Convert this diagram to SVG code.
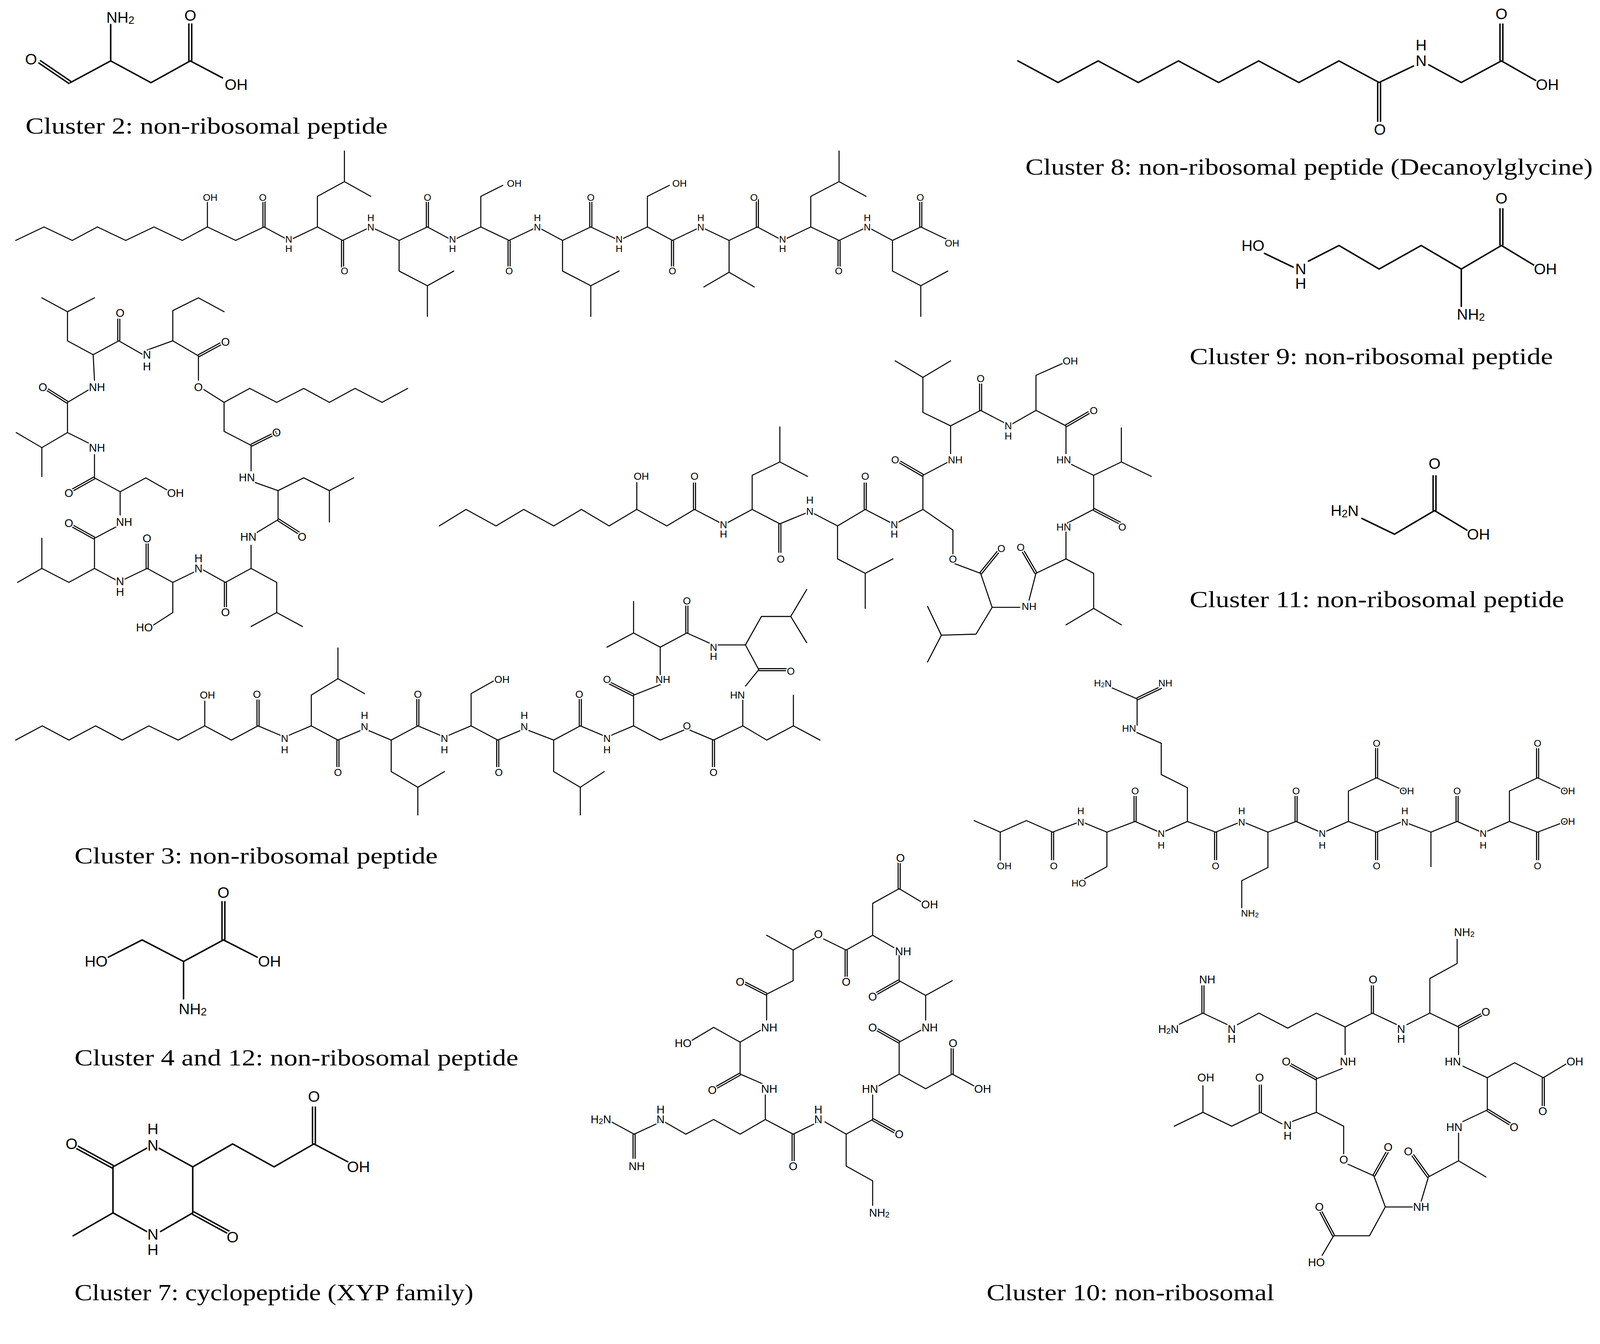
<svg xmlns="http://www.w3.org/2000/svg" width="4157" height="3440" viewBox="0 0 4157 3440">
<style>
.s{fill:none;stroke:#000;stroke-width:2.6;stroke-linejoin:round;stroke-linecap:round;vector-effect:non-scaling-stroke}
.db{fill:none;stroke:#000;stroke-width:8;vector-effect:non-scaling-stroke}
.dbw{fill:none;stroke:#fff;stroke-width:2.6;vector-effect:non-scaling-stroke}
.S{fill:none;stroke:#000;stroke-width:3.8;stroke-linejoin:round;stroke-linecap:round;vector-effect:non-scaling-stroke}
.DB{fill:none;stroke:#000;stroke-width:11;vector-effect:non-scaling-stroke}
.DBW{fill:none;stroke:#fff;stroke-width:3.6;vector-effect:non-scaling-stroke}
.a text{font-family:"Liberation Sans",Arial,sans-serif;text-anchor:middle;dominant-baseline:central;fill:#000;stroke:#fff;stroke-width:2.5;paint-order:stroke;stroke-linejoin:round}
.cap{font-family:"Liberation Serif","Times New Roman",serif;font-size:23px;fill:#000}
</style>
<rect width="4157" height="3440" fill="#fff"/>
<g transform="scale(2.612)">

<g id="cluster2">
<path class="DB" d="M38.4,60.3 L68.8,81 M186.5,59.7 L186.5,23"/>
<path class="DBW" d="M38.4,60.3 L68.8,81 M186.5,59.7 L186.5,23"/>
<path class="S" d="M68.8,81 L108.5,59.7 L108.5,24 M108.5,59.7 L148,81 L186.5,59.7 L218,76.3"/>
<g class="a" font-size="15"><text x="30.4" y="58">O</text><text x="118" y="17">NH<tspan dy="0.25em" font-size="70%">2</tspan></text><text x="186.5" y="15">O</text><text x="231.5" y="82.8">OH</text></g>
<text class="cap" x="25" y="131" textLength="355" lengthAdjust="spacingAndGlyphs">Cluster 2: non-ribosomal peptide</text>
</g>

<g id="cluster3-linear">
<g transform="matrix(0.616,0,0,0.12,0,139.6)">
<path class="db" d="M420,690 L420,460 M545,800 L545,1030 M680,690 L680,460 M810,800 L810,1030 M940,690 L940,460 M1070,800 L1070,1030 M1205,690 L1205,460 M1335,800 L1335,1030 M1465,690 L1465,460"/>
<path class="dbw" d="M420,690 L420,460 M545,800 L545,1030 M680,690 L680,460 M810,800 L810,1030 M940,690 L940,460 M1070,800 L1070,1030 M1205,690 L1205,460 M1335,800 L1335,1030 M1465,690 L1465,460"/>
<path class="s" d="M25,800 L70,690 L115,800 L155,690 L200,800 L245,690 L290,800 L330,690 L375,800 L420,690 L460,800 L505,690 L545,800 L590,690 L635,800 L680,690 L720,800 L765,690 L810,800 L855,690 L895,800 L940,690 L985,800 L1030,690 L1070,800 L1115,690 L1160,800 L1205,690 L1245,800 L1290,690 L1335,800 L1380,690 L1420,800 L1465,690 L1510,800 M330,690 L330,470 M505,690 L505,440 L548,320 L590,440 M548,320 L548,70 M635,800 L635,1050 L680,1170 L722,1050 M680,1170 L680,1420 M765,690 L765,440 L800,350 M895,800 L895,1050 L940,1170 L985,1050 M940,1170 L940,1420 M1030,690 L1030,440 L1065,350 M1160,800 L1160,1060 L1120,1180 M1160,1060 L1200,1180 M1290,690 L1290,440 L1335,320 L1378,440 M1335,320 L1335,70 M1420,800 L1420,1050 L1465,1170 L1508,1050 M1465,1170 L1465,1420"/>
</g>
<g class="a" font-size="9.5" transform="translate(0,7.6)">
<text x="206" y="186">OH</text><text x="257.5" y="186">O</text><text x="283" y="227">N</text><text x="283" y="236">H</text><text x="337.6" y="258">O</text><text x="363.4" y="215">N</text><text x="363.4" y="206">H</text><text x="419" y="186">O</text><text x="443.5" y="227">N</text><text x="443.5" y="236">H</text><text x="504" y="172">OH</text><text x="499" y="258">O</text><text x="526.7" y="215">N</text><text x="526.7" y="206">H</text><text x="579" y="186">O</text><text x="606.8" y="227">N</text><text x="606.8" y="236">H</text><text x="666" y="172">OH</text><text x="659" y="258">O</text><text x="686.8" y="215">N</text><text x="686.8" y="206">H</text><text x="739" y="186">O</text><text x="767" y="227">N</text><text x="767" y="236">H</text><text x="822" y="258">O</text><text x="850" y="215">N</text><text x="850" y="206">H</text><text x="902" y="186">O</text><text x="933" y="230.6">OH</text>
</g>
</g>

<g id="cluster3-cyclic1">
<g transform="matrix(0.2646,0,0,0.2276,0,272.5)">
<path class="db" d="M440,270 L440,175 M735,335 L830,275 M930,720 L1025,665 M1030,1040 L1110,1100 M835,1310 L835,1430 M545,1250 L545,1130 M350,1120 L265,1065 M350,860 L265,915 M250,535 L175,480"/>
<path class="dbw" d="M440,270 L440,175 M735,335 L830,275 M930,720 L1025,665 M1030,1040 L1110,1100 M835,1310 L835,1430 M545,1250 L545,1130 M350,1120 L265,1065 M350,860 L265,915 M250,535 L175,480"/>
<path class="s" d="M155,85 L250,145 L350,85 M250,145 L250,270 L345,330 L440,270 L530,330 M545,310 L640,270 L640,140 L735,85 L830,145 M640,270 L735,335 L735,440 M755,480 L830,535 L925,475 L1025,535 L1125,475 L1220,535 L1315,475 L1415,535 L1510,475 M830,535 L830,660 L930,720 L930,830 M945,880 L1030,915 L1125,860 L1220,915 L1310,860 M1220,915 L1220,1050 M1030,915 L1030,1040 L945,1100 M930,1150 L930,1250 L1025,1310 L1025,1440 L930,1500 M1025,1440 L1120,1500 M930,1250 L835,1310 L750,1255 M720,1265 L640,1310 L640,1440 L560,1500 M640,1310 L545,1250 L455,1300 M430,1300 L350,1250 L255,1310 L155,1250 L65,1310 M155,1250 L155,1120 M350,1250 L350,1120 L440,1065 M445,1020 L445,920 L540,860 L630,920 M445,920 L350,860 L350,760 M345,720 L250,665 L155,730 L60,665 M155,730 L155,855 M250,665 L250,535 L330,480 M350,440 L345,330"/>
</g>
<g class="a" font-size="11">
<text x="117.7" y="306.6">O</text><text x="144" y="347.6">N</text><text x="144" y="359">H</text><text x="221" y="335">O</text><text x="194.5" y="379.5">O</text><text x="95" y="379.5">NH</text><text x="42" y="379.5">O</text><text x="271" y="423.8">O</text><text x="95" y="438.6">NH</text><text x="242" y="468">HN</text><text x="67.5" y="483">O</text><text x="172" y="483">OH</text><text x="121.7" y="511.5">NH</text><text x="67.5" y="512.6">O</text><text x="296" y="526">O</text><text x="243.4" y="526">HN</text><text x="144" y="527.4">O</text><text x="194.5" y="547">H</text><text x="194.5" y="557">N</text><text x="117.7" y="569.5">N</text><text x="117.7" y="580">H</text><text x="221" y="600">O</text><text x="141.6" y="615">HO</text>
</g>
</g>

<g id="cluster3-cyclic2">
<g transform="matrix(0.4523,0,0,0.2021,425.1,339.5)">
<path class="db" d="M565,790 L565,660 M750,860 L750,1000 M935,790 L935,660 M1060,625 L1010,560 M1185,310 L1185,180 M1370,385 L1420,320 M1430,790 L1490,860 M1305,1100 L1275,985 M1185,1100 L1225,990"/>
<path class="dbw" d="M565,790 L565,660 M750,860 L750,1000 M935,790 L935,660 M1060,625 L1010,560 M1185,310 L1185,180 M1370,385 L1420,320 M1430,790 L1490,860 M1305,1100 L1275,985 M1185,1100 L1225,990"/>
<path class="s" d="M12,870 L70,790 L135,870 L195,790 L260,870 L320,790 L380,870 L440,790 L505,870 L565,790 L625,860 M440,790 L440,660 M632,860 L690,790 L690,625 L750,560 L810,630 M750,560 L750,390 M690,790 L750,860 L815,800 M815,800 L875,870 L875,1030 L935,1100 L995,1030 M935,1100 L935,1270 M875,870 L935,790 L995,860 M1000,860 L1060,790 L1060,625 L1115,560 M1120,520 L1120,385 L1060,320 L1060,150 L1000,70 M1060,150 L1120,70 M1120,385 L1185,310 L1245,380 M1250,380 L1305,310 L1305,140 L1365,80 M1305,310 L1370,385 L1370,520 M1380,570 L1430,625 L1490,560 L1490,395 M1490,560 L1555,630 M1430,625 L1430,790 L1370,860 M1370,890 L1370,1030 L1430,1100 L1430,1270 L1370,1350 M1430,1270 L1490,1350 M1370,1030 L1305,1100 L1290,1230 M1270,1265 L1210,1265 L1175,1395 L1100,1400 L1070,1260 M1100,1400 L1070,1530 M1210,1265 L1185,1100 L1125,1050 M1125,1010 L1125,890 L1060,790"/>
</g>
<g class="a" font-size="10">
<text x="628.6" y="466.8">OH</text><text x="680.7" y="466.8">O</text><text x="709.1" y="514.3">N</text><text x="709.1" y="523.4">H</text><text x="765.2" y="547.7">O</text><text x="793.7" y="501.2">N</text><text x="793.7" y="490.1">H</text><text x="848" y="466.8">O</text><text x="876.5" y="514.3">N</text><text x="876.5" y="523.4">H</text><text x="877.4" y="450.7">O</text><text x="936.2" y="450.7">NH</text><text x="961.1" y="370.8">O</text><text x="988.2" y="417.3">N</text><text x="988.2" y="427.4">H</text><text x="1049" y="353.6">OH</text><text x="1071.9" y="402.2">O</text><text x="1042.5" y="450.7">HN</text><text x="1099.9" y="516.3">O</text><text x="1042.5" y="516.3">HN</text><text x="1000.4" y="536.5">O</text><text x="1008.6" y="594.2">NH</text><text x="981.4" y="537.6">O</text><text x="933.9" y="547.7">O</text>
</g>
</g>

<g id="cluster3-cyclic3">
<g transform="matrix(0.5221,0,0,0.1468,7.5,569.6)">
<path class="db" d="M470,965 L470,790 M620,1060 L620,1240 M770,965 L770,785 M920,1060 L920,1240 M1075,965 L1075,785 M1175,760 L1125,670 M1275,345 L1275,160 M1410,590 L1465,590 M1325,1060 L1325,1240"/>
<path class="dbw" d="M470,965 L470,790 M620,1060 L620,1240 M770,965 L770,785 M920,1060 L920,1240 M1075,965 L1075,785 M1175,760 L1125,670 M1275,345 L1275,160 M1410,590 L1465,590 M1325,1060 L1325,1240"/>
<path class="s" d="M15,1060 L65,965 L115,1060 L165,965 L215,1060 L265,965 L320,1060 L370,965 L420,1060 L470,965 L520,1040 M370,965 L370,800 M520,1040 L570,965 L570,760 L620,650 L670,750 M620,650 L620,445 M570,965 L620,1060 L670,985 M670,985 L720,1060 L720,1270 L770,1375 L820,1270 M770,1375 L770,1560 M720,1060 L770,965 L820,1040 M820,1040 L870,965 L870,750 L915,660 M870,965 L920,1060 L970,985 M970,985 L1025,1060 L1025,1270 L1075,1375 L1120,1270 M1075,1375 L1075,1560 M1025,1060 L1075,965 L1125,1040 M1125,1040 L1175,965 L1175,760 L1225,690 M1225,625 L1225,440 L1175,345 L1175,135 M1175,345 L1125,440 M1225,440 L1275,345 L1325,425 M1325,425 L1385,425 L1415,235 L1470,235 L1500,55 M1470,235 L1500,410 M1385,425 L1410,590 L1385,700 M1380,790 L1380,965 L1425,1060 L1475,965 L1525,1060 M1475,965 L1475,760 M1380,965 L1325,1060 L1275,985 M1275,985 L1225,1060 L1175,965"/>
</g>
<g class="a" font-size="10">
<text x="203.3" y="681.2">OH</text><text x="251.8" y="680.4">O</text><text x="279" y="723.7">N</text><text x="279" y="734.7">H</text><text x="331.2" y="756.8">O</text><text x="357.3" y="712">N</text><text x="357.3" y="701">H</text><text x="409.5" y="680.4">O</text><text x="435.6" y="723.7">N</text><text x="435.6" y="734.7">H</text><text x="492" y="665.8">OH</text><text x="488.9" y="756.8">O</text><text x="513.9" y="712">N</text><text x="513.9" y="701">H</text><text x="567.7" y="680.4">O</text><text x="594.9" y="723.7">N</text><text x="594.9" y="734.7">H</text><text x="594.9" y="665.8">O</text><text x="649.7" y="665.8">NH</text><text x="673.2" y="588.7">O</text><text x="699.3" y="634.2">N</text><text x="699.3" y="643">H</text><text x="775" y="657.7">O</text><text x="722.8" y="681.2">HN</text><text x="699.3" y="756.8">O</text><text x="673.2" y="711.3">O</text>
</g>
<text class="cap" x="73" y="846" textLength="356" lengthAdjust="spacingAndGlyphs">Cluster 3: non-ribosomal peptide</text>
</g>

<g id="cluster10-linear">
<g transform="matrix(0.3945,0,0,0.1612,946.8,652.6)">
<path class="db" d="M215,1010 L215,1180 M420,945 L420,790 M425,200 L485,130 M620,1010 L620,1180 M820,945 L820,790 M1020,680 L1020,500 M1020,1010 L1020,1180 M1220,945 L1220,790 M1420,680 L1420,500 M1420,1010 L1420,1180"/>
<path class="dbw" d="M215,1010 L215,1180 M420,945 L420,790 M425,200 L485,130 M620,1010 L620,1180 M820,945 L820,790 M1020,680 L1020,500 M1020,1010 L1020,1180 M1220,945 L1220,790 M1420,680 L1420,500 M1420,1010 L1420,1180"/>
<path class="s" d="M20,940 L85,1010 L150,940 L215,1010 L285,945 L350,1010 L420,945 L485,1015 L550,945 L620,1010 L685,945 L750,1010 L820,945 L885,1015 L950,945 L1020,1010 L1085,945 L1155,1010 L1220,945 L1285,1015 L1350,945 L1420,1010 L1490,945 M85,1010 L85,1180 M350,1010 L350,1220 L290,1300 M550,945 L550,740 L485,660 L485,470 L420,400 M425,360 L425,200 L360,130 M750,1010 L750,1225 L685,1305 L685,1470 M950,945 L950,760 L1020,680 L1090,760 M1155,1010 L1155,1220 M1350,945 L1350,760 L1420,680 L1490,760"/>
</g>
<g class="a" font-size="9.5">
<text x="984.3" y="848.5">OH</text><text x="1032.8" y="848.5">O</text><text x="1059.2" y="805.7">N</text><text x="1059.2" y="794.5">H</text><text x="1057.3" y="865.4">HO</text><text x="1112.5" y="775.1">O</text><text x="1138.1" y="817">N</text><text x="1138.1" y="828.3">H</text><text x="1106.6" y="713.9">HN</text><text x="1142.1" y="669.5">NH</text><text x="1080.9" y="669.5">H<tspan dy="0.25em" font-size="70%">2</tspan><tspan dy="-0.18em">N</tspan></text><text x="1191.4" y="848.5">O</text><text x="1217" y="805.7">N</text><text x="1217" y="794.5">H</text><text x="1225" y="895">NH<tspan dy="0.25em" font-size="70%">2</tspan></text><text x="1270.3" y="775.1">O</text><text x="1295.9" y="817">N</text><text x="1295.9" y="828.3">H</text><text x="1378.8" y="775.1">OH</text><text x="1349.2" y="728.4">O</text><text x="1349.2" y="848.5">O</text><text x="1376.8" y="805.7">N</text><text x="1376.8" y="794.5">H</text><text x="1428.1" y="775.1">O</text><text x="1453.7" y="817">N</text><text x="1453.7" y="828.3">H</text><text x="1536.6" y="775.1">OH</text><text x="1507" y="728.4">O</text><text x="1507" y="848.5">O</text><text x="1536.6" y="804.9">OH</text>
</g>
</g>

<g id="cluster10-cyclic1">
<g transform="matrix(0.2598,0,0,0.2406,573.4,829.9)">
<path class="db" d="M985,420 L985,530 M1185,170 L1185,60 M1185,545 L1095,600 M1185,795 L1095,740 M1385,925 L1385,815 M1085,1110 L1175,1165 M785,1170 L785,1280 M185,1170 L185,1270 M585,925 L495,980 M685,600 L595,550"/>
<path class="dbw" d="M985,420 L985,530 M1185,170 L1185,60 M1185,545 L1095,600 M1185,795 L1095,740 M1385,925 L1385,815 M1085,1110 L1175,1165 M785,1170 L785,1280 M185,1170 L185,1270 M585,925 L495,980 M685,600 L595,550"/>
<path class="s" d="M685,360 L785,420 L865,372 M900,375 L985,420 L1085,360 L1085,230 L1185,170 L1270,225 M1085,360 L1165,410 M1185,440 L1185,545 L1285,605 L1385,545 M1285,605 L1285,705 M1270,745 L1185,795 L1185,925 L1285,985 L1385,925 L1470,975 M1185,925 L1105,975 M1085,1010 L1085,1110 L985,1170 L985,1300 L1085,1360 L1085,1460 M985,1170 L905,1120 M880,1120 L785,1170 L680,1110 L585,1170 L485,1110 L380,1170 L300,1120 M285,1120 L185,1170 L100,1120 M680,1110 L680,1010 M670,965 L585,925 L585,795 L485,735 L400,790 M585,795 L665,745 M685,705 L685,600 L785,545 L785,420"/>
<g class="a" font-size="11">
<text transform="translate(880 355) scale(3.849 4.156)">O</text><text transform="translate(985 550) scale(3.849 4.156)">O</text><text transform="translate(1190 45) scale(3.849 4.156)">O</text><text transform="translate(1300 235) scale(3.849 4.156)">OH</text><text transform="translate(1200 425) scale(3.849 4.156)">NH</text><text transform="translate(1085 610) scale(3.849 4.156)">O</text><text transform="translate(1300 735) scale(3.849 4.156)">NH</text><text transform="translate(1085 735) scale(3.849 4.156)">O</text><text transform="translate(1388 800) scale(3.849 4.156)">O</text><text transform="translate(1500 985) scale(3.849 4.156)">OH</text><text transform="translate(1075 985) scale(3.849 4.156)">HN</text><text transform="translate(1185 1170) scale(3.849 4.156)">O</text><text transform="translate(1110 1490) scale(3.849 4.156)">NH<tspan dy="0.25em" font-size="70%">2</tspan></text><text transform="translate(880 1110) scale(3.849 4.156)">N</text><text transform="translate(880 1070) scale(3.849 4.156)">H</text><text transform="translate(785 1300) scale(3.849 4.156)">O</text><text transform="translate(285 1110) scale(3.849 4.156)">N</text><text transform="translate(285 1070) scale(3.849 4.156)">H</text><text transform="translate(195 1300) scale(3.849 4.156)">NH</text><text transform="translate(60 1110) scale(3.849 4.156)">H<tspan dy="0.25em" font-size="70%">2</tspan><tspan dy="-0.18em">N</tspan></text><text transform="translate(695 985) scale(3.849 4.156)">NH</text><text transform="translate(480 990) scale(3.849 4.156)">O</text><text transform="translate(370 800) scale(3.849 4.156)">HO</text><text transform="translate(695 735) scale(3.849 4.156)">NH</text><text transform="translate(585 550) scale(3.849 4.156)">O</text>
</g>
</g>
</g>

<g id="cluster10-cyclic2">
<g transform="matrix(0.2815,0,0,0.2261,1124.1,897.8)">
<path class="db" d="M395,850 L395,730 M790,1125 L840,1015 M650,1385 L605,1280 M980,1130 L925,1035 M1185,840 L1270,905 M1380,700 L1380,830 M1085,480 L1175,420 M785,420 L785,300 M195,420 L195,300 M590,705 L495,640"/>
<path class="dbw" d="M395,850 L395,730 M790,1125 L840,1015 M650,1385 L605,1280 M980,1130 L925,1035 M1185,840 L1270,905 M1380,700 L1380,830 M1085,480 L1175,420 M785,420 L785,300 M195,420 L195,300 M590,705 L495,640"/>
<path class="s" d="M95,910 L195,850 L195,735 M195,850 L295,910 L395,850 L470,900 M505,890 L590,850 L685,910 L685,1030 M700,1075 L790,1125 L830,1260 L775,1385 L650,1385 L610,1470 M830,1260 L925,1260 M955,1235 L980,1130 L1085,1060 L1180,1130 M1085,1060 L1085,940 M1100,890 L1185,840 L1185,700 L1280,635 L1380,700 L1460,640 M1185,700 L1100,650 M1085,600 L1085,480 L985,420 L985,270 L1080,205 L1080,100 M985,420 L905,470 M870,470 L785,420 L690,480 L590,420 L490,485 L390,420 L315,470 M280,470 L195,420 L110,470 M690,480 L690,600 M680,660 L590,705 L590,850"/>
<g class="a" font-size="11">
<text transform="translate(205 700) scale(3.552 4.423)">OH</text><text transform="translate(392 700) scale(3.552 4.423)">O</text><text transform="translate(490 905) scale(3.552 4.423)">N</text><text transform="translate(490 952) scale(3.552 4.423)">H</text><text transform="translate(685 1055) scale(3.552 4.423)">O</text><text transform="translate(840 1000) scale(3.552 4.423)">O</text><text transform="translate(600 1260) scale(3.552 4.423)">O</text><text transform="translate(590 1500) scale(3.552 4.423)">HO</text><text transform="translate(955 1260) scale(3.552 4.423)">NH</text><text transform="translate(910 1020) scale(3.552 4.423)">O</text><text transform="translate(1070 915) scale(3.552 4.423)">HN</text><text transform="translate(1278 915) scale(3.552 4.423)">O</text><text transform="translate(1378 845) scale(3.552 4.423)">O</text><text transform="translate(1490 630) scale(3.552 4.423)">OH</text><text transform="translate(1065 630) scale(3.552 4.423)">HN</text><text transform="translate(1180 415) scale(3.552 4.423)">O</text><text transform="translate(1105 70) scale(3.552 4.423)">NH<tspan dy="0.25em" font-size="70%">2</tspan></text><text transform="translate(885 490) scale(3.552 4.423)">N</text><text transform="translate(885 532) scale(3.552 4.423)">H</text><text transform="translate(787 275) scale(3.552 4.423)">O</text><text transform="translate(295 490) scale(3.552 4.423)">N</text><text transform="translate(295 532) scale(3.552 4.423)">H</text><text transform="translate(210 275) scale(3.552 4.423)">NH</text><text transform="translate(75 490) scale(3.552 4.423)">H<tspan dy="0.25em" font-size="70%">2</tspan><tspan dy="-0.18em">N</tspan></text><text transform="translate(700 630) scale(3.552 4.423)">NH</text><text transform="translate(485 630) scale(3.552 4.423)">O</text>
</g>
</g>
<text class="cap" x="967" y="1274" textLength="282" lengthAdjust="spacingAndGlyphs">Cluster 10: non-ribosomal</text>
</g>

<g id="clusters-8-9-11">
<g transform="matrix(0.3746,0,0,0.3849,980.8,0)">
<path class="DB" d="M990,210 L990,310 M1310,155 L1310,60 M1310,625 L1310,530 M1135,1300 L1135,1210"/>
<path class="DBW" d="M990,210 L990,310 M1310,155 L1310,60 M1310,625 L1310,530 M1135,1300 L1135,1210"/>
<path class="S" d="M45,155 L150,210 L255,155 L360,210 L465,155 L570,210 L675,155 L780,210 L885,155 L990,210 L1080,168 M1120,165 L1205,210 L1310,155 L1400,205 M690,645 L765,680 M805,665 L885,625 L990,685 L1100,625 L1205,685 L1310,625 L1395,675 M1205,685 L1205,780 M945,1320 L1030,1360 L1135,1300 L1220,1350"/>
<g class="a" font-size="15">
<text transform="translate(992 330) scale(2.67 2.598)">O</text><text transform="translate(1100 155) scale(2.67 2.598)">N</text><text transform="translate(1100 115) scale(2.67 2.598)">H</text><text transform="translate(1310 35) scale(2.67 2.598)">O</text><text transform="translate(1430 215) scale(2.67 2.598)">OH</text><text transform="translate(660 625) scale(2.67 2.598)">HO</text><text transform="translate(785 685) scale(2.67 2.598)">N</text><text transform="translate(785 722) scale(2.67 2.598)">H</text><text transform="translate(1425 685) scale(2.67 2.598)">OH</text><text transform="translate(1310 505) scale(2.67 2.598)">O</text><text transform="translate(1230 800) scale(2.67 2.598)">NH<tspan dy="0.25em" font-size="70%">2</tspan></text><text transform="translate(900 1300) scale(2.67 2.598)">H<tspan dy="0.25em" font-size="70%">2</tspan><tspan dy="-0.18em">N</tspan></text><text transform="translate(1135 1180) scale(2.67 2.598)">O</text><text transform="translate(1250 1360) scale(2.67 2.598)">OH</text>
</g>
</g>
<text class="cap" x="1005" y="171" textLength="556" lengthAdjust="spacingAndGlyphs">Cluster 8: non-ribosomal peptide (Decanoylglycine)</text>
<text class="cap" x="1166" y="357" textLength="356" lengthAdjust="spacingAndGlyphs">Cluster 9: non-ribosomal peptide</text>
<text class="cap" x="1166" y="595" textLength="367" lengthAdjust="spacingAndGlyphs">Cluster 11: non-ribosomal peptide</text>
</g>

<g id="clusters-4-7">
<g transform="matrix(0.3007,0,0,0.2815,56.6,856.3)">
<path class="DB" d="M540,230 L540,95 M180,1020 L60,950 M440,1180 L560,1250 M835,940 L835,810"/>
<path class="DBW" d="M540,230 L540,95 M180,1020 L60,950 M440,1180 L560,1250 M835,940 L835,810"/>
<path class="S" d="M165,290 L275,230 L410,305 L410,435 M410,305 L540,230 L650,290 M180,1020 L290,955 M330,955 L440,1020 L440,1180 L335,1245 M290,1245 L180,1180 L180,1020 M180,1180 L50,1260 M440,1020 L570,940 L705,1020 L835,940 L950,1005"/>
<g class="a" font-size="15">
<text transform="translate(125 305) scale(3.326 3.552)">HO</text><text transform="translate(440 470) scale(3.326 3.552)">NH<tspan dy="0.25em" font-size="70%">2</tspan></text><text transform="translate(540 65) scale(3.326 3.552)">O</text><text transform="translate(690 305) scale(3.326 3.552)">OH</text><text transform="translate(45 940) scale(3.326 3.552)">O</text><text transform="translate(310 945) scale(3.326 3.552)">N</text><text transform="translate(310 888) scale(3.326 3.552)">H</text><text transform="translate(310 1255) scale(3.326 3.552)">N</text><text transform="translate(310 1308) scale(3.326 3.552)">H</text><text transform="translate(570 1265) scale(3.326 3.552)">O</text><text transform="translate(835 775) scale(3.326 3.552)">O</text><text transform="translate(980 1020) scale(3.326 3.552)">OH</text>
</g>
</g>
<text class="cap" x="73" y="1044" textLength="435" lengthAdjust="spacingAndGlyphs">Cluster 4 and 12: non-ribosomal peptide</text>
<text class="cap" x="73" y="1274" textLength="391" lengthAdjust="spacingAndGlyphs">Cluster 7: cyclopeptide (XYP family)</text>
</g>

</g>
</svg>
